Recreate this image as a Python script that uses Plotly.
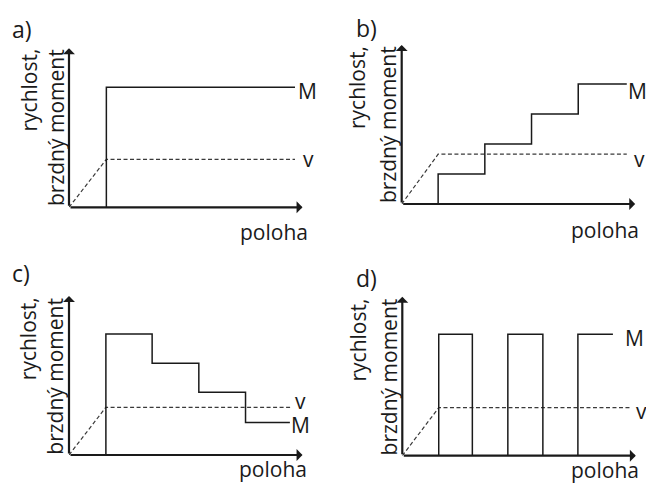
import plotly.graph_objects as go

# ---- curve data (x: poloha, y: rychlost / brzdný moment), in diagram units ----
a_M_x = [0.80, 0.80, 4.84]
a_M_y = [0.0, 4.0, 4.0]
a_v_x = [0.0, 0.80, 4.84]
a_v_y = [0.0, 1.60, 1.60]

b_M_x = [0.78, 0.78, 1.78, 2.78, 3.78, 4.82]
b_M_y = [0.0, 1.0, 2.0, 3.0, 4.0, 4.0]
b_v_x = [0.0, 0.78, 4.82]
b_v_y = [0.0, 1.66, 1.66]

c_M_x = [0.79, 0.79, 1.78, 2.78, 3.78, 4.73]
c_M_y = [0.0, 4.03, 3.06, 2.09, 1.08, 1.08]
c_v_x = [0.0, 0.79, 4.78]
c_v_y = [0.0, 1.59, 1.59]

d_M_x = [0.78, 0.78, 1.50, 2.26, 3.01, 3.76, 4.51]
d_M_y = [0.0, 4.05, 0.0, 4.05, 0.0, 4.05, 4.05]
d_v_x = [0.0, 0.78, 4.87]
d_v_y = [0.0, 1.60, 1.60]

panel_letters = ["a)", "b)", "c)", "d)"]
y_title_lines = ["rychlost,", "brzdný moment"]
x_title = "poloha"

# ---- layout constants ----
W, H = 646, 487
FONT = "Open Sans"
FS = 21
FS_LETTER = 23
INK = "#1a1a1a"
X_MAX, Y_MAX = 5.0, 5.3
PX_X, PX_Y = 46.7, 30.0          # pixels per diagram unit

# origin pixel of each panel
origins = [(69.0, 207.3), (401.7, 204.0), (69.0, 455.0), (402.3, 455.7)]

panels = [
    dict(Mx=a_M_x, My=a_M_y, vx=a_v_x, vy=a_v_y, shape="linear",
         M_lab=(4.86, 3.88), v_lab=(4.96, 1.62)),
    dict(Mx=b_M_x, My=b_M_y, vx=b_v_x, vy=b_v_y, shape="hv",
         M_lab=(4.81, 3.77), v_lab=(4.94, 1.50)),
    dict(Mx=c_M_x, My=c_M_y, vx=c_v_x, vy=c_v_y, shape="hv",
         M_lab=(4.71, 1.00), v_lab=(4.79, 1.80)),
    dict(Mx=d_M_x, My=d_M_y, vx=d_v_x, vy=d_v_y, shape="hv",
         M_lab=(4.73, 3.92), v_lab=(4.97, 1.50)),
]

# text positions in pixels
letter_pos = [(22, 29), (366, 28), (21, 272.5), (366, 278)]
ytitle_pos = [((28.0, 47), (55.5, 47)), ((356.5, 44), (387.5, 44)),
              ((28.0, 295.7), (55.5, 295.7)), ((358.3, 296.7), (389.2, 296.7))]
xtitle_pos = [(310, 232), (641, 229.5), (309, 468.5), (641, 469.5)]


def px(x):
    return x / W


def py(y):
    return 1 - y / H


fig = go.Figure()
annotations = []
layout_axes = {}

for i, (p, (ox, oy)) in enumerate(zip(panels, origins)):
    n = "" if i == 0 else str(i + 1)
    xa, ya = "x" + n, "y" + n
    layout_axes["xaxis" + n] = dict(
        domain=[px(ox), px(ox + X_MAX * PX_X)], range=[0, X_MAX],
        visible=False, anchor=ya, fixedrange=True)
    layout_axes["yaxis" + n] = dict(
        domain=[py(oy), py(oy - Y_MAX * PX_Y)], range=[0, Y_MAX],
        visible=False, anchor=xa, fixedrange=True)

    # speed (dashed)
    fig.add_trace(go.Scatter(
        x=p["vx"], y=p["vy"], mode="lines", xaxis=xa, yaxis=ya,
        line=dict(color="#3a3a3a", width=1.2, dash="4px,2.5px"),
        cliponaxis=False, showlegend=False, hoverinfo="skip"))
    # braking torque
    fig.add_trace(go.Scatter(
        x=p["Mx"], y=p["My"], mode="lines", xaxis=xa, yaxis=ya,
        line=dict(color=INK, width=1.5, shape=p["shape"]),
        cliponaxis=False, showlegend=False, hoverinfo="skip"))

    # axis arrows
    for (tx, ty) in [(X_MAX, 0), (0, Y_MAX)]:
        annotations.append(dict(
            x=tx, y=ty, ax=0, ay=0, xref=xa, yref=ya, axref=xa, ayref=ya,
            text="", showarrow=True, arrowhead=1, arrowsize=0.9,
            arrowwidth=2.2, arrowcolor=INK, standoff=0))

    # curve labels
    for lab, (lx, ly) in [("M", p["M_lab"]), ("v", p["v_lab"])]:
        annotations.append(dict(
            x=lx, y=ly, xref=xa, yref=ya, text=lab, showarrow=False,
            xanchor="left", yanchor="middle",
            font=dict(family=FONT, size=FS, color=INK)))

    # panel letter
    lx, ly = letter_pos[i]
    annotations.append(dict(
        x=px(lx), y=py(ly), xref="paper", yref="paper", text=panel_letters[i],
        showarrow=False, xanchor="center", yanchor="middle",
        font=dict(family=FONT, size=FS_LETTER, color=INK)))

    # rotated y title (two lines, ending at the top of the axis)
    for line, (tx, ty) in zip(y_title_lines, ytitle_pos[i]):
        annotations.append(dict(
            x=px(tx), y=py(ty), xref="paper", yref="paper", text=line,
            textangle=-90, showarrow=False, xanchor="center", yanchor="top",
            font=dict(family=FONT, size=FS, color=INK)))

    # x title
    tx, ty = xtitle_pos[i]
    annotations.append(dict(
        x=px(tx), y=py(ty), xref="paper", yref="paper", text=x_title,
        showarrow=False, xanchor="right", yanchor="middle",
        font=dict(family=FONT, size=FS, color=INK)))

fig.update_layout(
    width=W, height=H, margin=dict(l=0, r=0, t=0, b=0),
    paper_bgcolor="white", plot_bgcolor="white",
    annotations=annotations, **layout_axes)

fig.write_html("out.html", config=dict(displayModeBar=False))
